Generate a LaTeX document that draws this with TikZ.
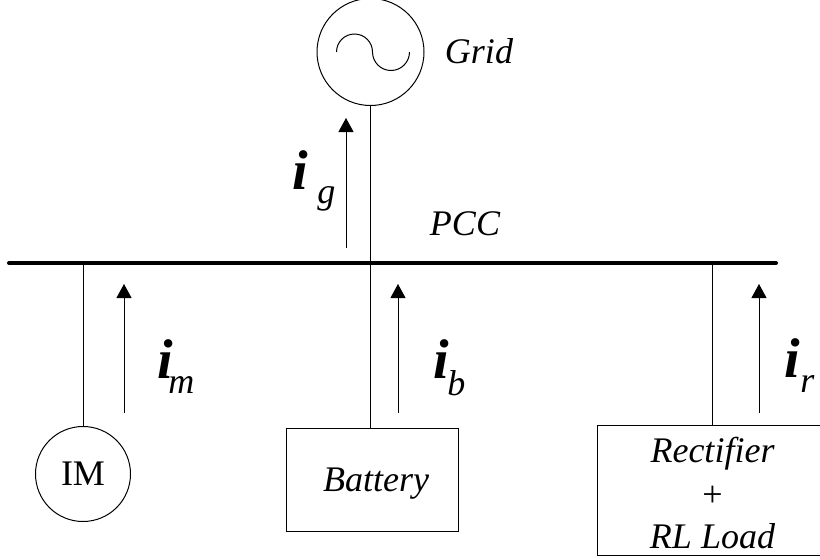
\documentclass[tikz,border=0pt]{standalone}
\usepackage{fontspec}
\setmainfont{Liberation Serif}
\usetikzlibrary{arrows.meta}
\newcommand{\isub}[3]{i\kern#1pt\raisebox{-#2pt}{\fontsize{36}{43}\selectfont\mdseries #3}}

\begin{document}
\begin{tikzpicture}[x=1pt, y=-1pt, line width=1pt,
    every node/.style={inner sep=0pt, font=\fontsize{36}{43}\selectfont\itshape},
    unit/.style={draw, circle, minimum size=#1},
    load/.style={draw, rectangle, align=center},
    current/.style={-{Triangle[length=14pt, width=15pt]}},
    cur/.style={anchor=base west, font=\fontsize{56}{56}\selectfont\bfseries\itshape}]
\clip (0,0) rectangle (820,560);
\coordinate (busl) at (9,263);
\coordinate (busr) at (776,263);
\node[unit=107pt] (grid) at (370.5,52) {};
\node[unit=95pt, font=\fontsize{36}{43}\selectfont\upshape] (im) at (83,474) {IM};
\node[load, minimum width=172.5pt, minimum height=103pt] (battery) at (372.25,479.5) {};
\node[load, minimum width=231pt, minimum height=130pt] (rectifier) at (712.5,490) {};
\node[anchor=base] (gridtext) at (479,63) {Grid};
\node[anchor=base] (pcc) at (465,235) {PCC};
\node[anchor=base] (battext) at (376,491) {Battery};
\node[anchor=base] (rectext) at (712.5,462) {Rectifier};
\node[anchor=base, font=\fontsize{36}{43}\selectfont\upshape] (plus) at (712.5,506) {+};
\node[anchor=base] (rltext) at (712.5,548) {RL Load};
\draw[line width=4pt, line cap=round] (busl) -- (busr);
\draw (grid.south) -- (grid.south |- battery.north);
\draw (im.north) -- (im.north |- busl);
\draw (rectifier.north) -- (rectifier.north |- busl);
% sine inside the source
\draw ([xshift=-34pt]grid.center) arc[start angle=180, end angle=0, radius=18pt]
  arc[start angle=180, end angle=360, radius=18.5pt];
% measured currents
\coordinate (gs) at (346,248);
\coordinate (ge) at (346,118);
\coordinate (ms) at (124,413);
\coordinate (me) at (124,284);
\coordinate (bs) at (398,413);
\coordinate (be) at (398,284);
\coordinate (rs) at (759,413);
\coordinate (re) at (759,284);
\draw[current] (gs) -- (ge);
\draw[current] (ms) -- (me);
\draw[current] (bs) -- (be);
\draw[current] (rs) -- (re);
\node[cur] (ig) at (292,189) {\isub{9.4}{14}{g}};
\node[cur] (imot) at (157,378) {\isub{-4.6}{15}{m}};
\node[cur] (ib) at (433,378) {\isub{-1.6}{17}{b}};
\node[cur] (ir) at (784,377) {\isub{0.4}{15}{r}};
\end{tikzpicture}
\end{document}
